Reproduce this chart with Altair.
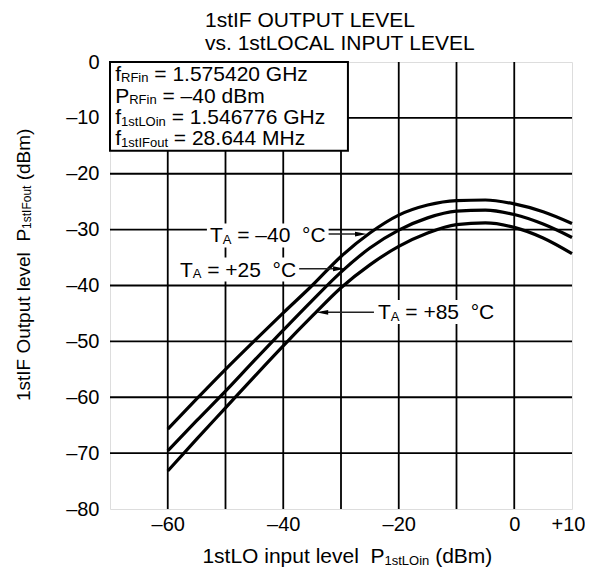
import altair as alt
import pandas as pd

FONT = "Liberation Sans"

# ---------------- data ----------------
X_LO = [-60, -55, -50, -45, -40, -35, -30, -25, -20, -15, -10, -5, 0, 5, 10]
P_M40 = [-65.7, -60.3, -55.0, -49.9, -44.9, -40.0, -34.8, -30.6, -27.4, -25.6, -24.8, -24.7, -25.4, -26.8, -28.9]
P_P25 = [-69.6, -64.2, -58.9, -53.4, -48.0, -42.7, -37.6, -33.3, -30.1, -27.9, -26.7, -26.5, -27.3, -29.0, -31.4]
P_P85 = [-73.2, -67.5, -61.9, -56.3, -50.8, -45.5, -40.4, -36.3, -33.0, -30.6, -29.1, -28.8, -29.6, -31.5, -34.3]
SERIES = ["-40", "+25", "+85"]

X_DOMAIN = [-70, 10]
Y_DOMAIN = [-80, 0]
X_TICKS = [-60, -40, -20, 0, 10]
Y_TICKS = [0, -10, -20, -30, -40, -50, -60, -70, -80]
GRID_X = [-60, -50, -40, -30, -20, -10, 0]
GRID_Y = [-10, -20, -30, -40, -50, -60, -70]

TITLE_LINES = ["1stIF OUTPUT LEVEL", "vs. 1stLOCAL INPUT LEVEL"]
TITLE_X = -53.55
TITLE_Y = [6.26, 2.15]

COND_LINES = [
    [("f", False), ("RFin", True), (" = 1.575420 GHz", False)],
    [("P", False), ("RFin", True), (" = –40 dBm", False)],
    [("f", False), ("1stLOin", True), (" = 1.546776 GHz", False)],
    [("f", False), ("1stIFout", True), (" = 28.644 MHz", False)],
]
COND_X = -69.1
COND_Y = [-3.4, -7.25, -11.1, -14.9]
COND_BOX = [-70, -28.8, 0, -15.9]

X_TITLE = [("1stLO input level  P", False), ("1stLOin", True), (" (dBm)", False)]
Y_TITLE = [("1stIF Output level  P", False), ("1stIFout", True), (" (dBm)", False)]
X_TITLE_POS = (-28.9, -89.7)   # centre x, baseline y
Y_TITLE_POS = (-83.9, -36.3)   # baseline x, centre y

ANNOT = [
    [("T", False), ("A", True), (" = –40  °C", False)],
    [("T", False), ("A", True), (" = +25  °C", False)],
    [("T", False), ("A", True), (" = +85  °C", False)],
]
ANNOT_X = [-52.7, -57.9, -23.6]
ANNOT_Y = [-32.3, -38.4, -46.0]
ARROW_Y = [-30.8, -37.0, -44.8]
ARROW_TIP = [-25.5, -29.3, -34.3]
ARROW_DIR = [1, 1, -1]

# ---------------- geometry ----------------
W, H = 462, 447
PXX = W / (X_DOMAIN[1] - X_DOMAIN[0])
PXY = H / (Y_DOMAIN[1] - Y_DOMAIN[0])
MAIN, SUB = 21, 13

ARIAL = {' ': 278, '(': 333, ')': 333, '+': 584, '.': 278, '=': 584, '°': 400, '–': 556,
         'A': 667, 'B': 667, 'C': 722, 'F': 611, 'G': 778, 'H': 722, 'I': 278, 'L': 556,
         'M': 833, 'O': 778, 'P': 667, 'R': 722, 'T': 611, 'd': 556, 'e': 556, 'f': 278,
         'i': 222, 'l': 222, 'm': 833, 'n': 556, 'o': 556, 'p': 556, 'r': 333, 's': 500,
         't': 278, 'u': 556, 'v': 500, 'z': 500}


def tw(s, size):
    return sum(ARIAL.get(c, 556) for c in s) * size / 1000.0


def total_width(parts, size, sub):
    return sum(tw(t, sub if s else size) for t, s in parts)


def place(parts, x0, y0, size, sub, rotate=False, drop=1.5):
    rows, off = [], 0.0
    for text, is_sub in parts:
        fs = sub if is_sub else size
        d = drop if is_sub else 0.0
        lead = len(text) - len(text.lstrip(" "))
        o = off + tw(" " * lead, fs)
        shown = text.strip(" ").replace(" ", "\u00a0")
        if rotate:
            rows.append(dict(x=x0 + d / PXX, y=y0 + o / PXY, text=shown, size=fs, angle=270))
        else:
            rows.append(dict(x=x0 + o / PXX, y=y0 - d / PXY, text=shown, size=fs, angle=0))
        off += tw(text, fs)
    return rows


xs = alt.Scale(domain=X_DOMAIN, nice=False, zero=False)
ys = alt.Scale(domain=Y_DOMAIN, nice=False, zero=False)

xaxis = alt.Axis(values=X_TICKS, title=None, grid=False, domain=False, ticks=False,
                 labelFlush=True, labelFlushOffset=13,
                 labelExpr="datum.value == 0 ? '0' : datum.value > 0 ? '+' + datum.value : '–' + abs(datum.value)",
                 labelFont=FONT, labelFontSize=20, labelColor="black", labelPadding=5)
yaxis = alt.Axis(values=Y_TICKS, title=None, grid=False, domain=False, ticks=False, labelFlush=False,
                 labelExpr="datum.value == 0 ? '0' : '–' + abs(datum.value)",
                 labelFont=FONT, labelFontSize=20, labelColor="black", labelPadding=11)


def X(field):
    return alt.X(field, scale=xs, axis=xaxis, title=None)


def Y(field):
    return alt.Y(field, scale=ys, axis=yaxis, title=None)


# curves
rows = []
for name, vals in zip(SERIES, [P_M40, P_P25, P_P85]):
    for x, p in zip(X_LO, vals):
        rows.append(dict(x=x, p=p, series=name))
curves_df = pd.DataFrame(rows)

# text pieces
text_rows = []
for line, y in zip(TITLE_LINES, TITLE_Y):
    text_rows += place([(line, False)], TITLE_X, y, MAIN, SUB)
for parts, y in zip(COND_LINES, COND_Y):
    text_rows += place(parts, COND_X, y, MAIN, SUB)
xw = total_width(X_TITLE, MAIN, SUB)
text_rows += place(X_TITLE, X_TITLE_POS[0] - xw / 2 / PXX, X_TITLE_POS[1], MAIN, SUB)
yw = total_width(Y_TITLE, 19, 12)
text_rows += place(Y_TITLE, Y_TITLE_POS[0], Y_TITLE_POS[1] - yw / 2 / PXY, 19, 12, rotate=True)

bg_rows, shaft_rows, head_rows = [], [], []
for parts, ax, ay, arry, tip, d in zip(ANNOT, ANNOT_X, ANNOT_Y, ARROW_Y, ARROW_TIP, ARROW_DIR):
    text_rows += place(parts, ax, ay, MAIN, SUB)
    w = total_width(parts, MAIN, SUB)
    bg_rows.append(dict(x=ax - 3 / PXX, x2=ax + (w + 3) / PXX, y=ay + 19 / PXY, y2=ay - 5 / PXY))
    start = ax + (w + 3) / PXX if d > 0 else ax - 4 / PXX
    head = tip - d * 6 / PXX
    shaft_rows.append(dict(x=start, x2=head, y=arry))
    head_rows.append(dict(x=head, y=arry, angle=0 if d > 0 else 180))

text_df = pd.DataFrame(text_rows)

grid_x = alt.Chart(pd.DataFrame({"x": GRID_X})).mark_rule(color="black", strokeWidth=1.8).encode(
    x=X("x:Q"))
grid_y = alt.Chart(pd.DataFrame({"y": GRID_Y})).mark_rule(color="black", strokeWidth=1.8).encode(
    y=Y("y:Q"))

box = alt.Chart(pd.DataFrame([dict(x=COND_BOX[0], x2=COND_BOX[1], y=COND_BOX[2], y2=COND_BOX[3])])).mark_rect(
    fill="white", stroke="black", strokeWidth=2).encode(
    x=X("x:Q"), x2="x2:Q", y=Y("y:Q"), y2="y2:Q")

bgs = alt.Chart(pd.DataFrame(bg_rows)).mark_rect(fill="white").encode(
    x=X("x:Q"), x2="x2:Q", y=Y("y:Q"), y2="y2:Q")

lines = alt.Chart(curves_df).mark_line(color="black", strokeWidth=3.2, interpolate="monotone").encode(
    x=X("x:Q"), y=Y("p:Q"), detail="series:N")

shafts = alt.Chart(pd.DataFrame(shaft_rows)).mark_rule(color="#222", strokeWidth=1.5).encode(
    x=X("x:Q"), x2="x2:Q", y=Y("y:Q"))

heads = alt.Chart(pd.DataFrame(head_rows)).mark_point(
    shape="M-1,-0.4L1,0L-1,0.4Z", filled=True, size=144, color="black", opacity=1).encode(
    x=X("x:Q"), y=Y("y:Q"), angle=alt.Angle("angle:Q", scale=None))

texts = alt.Chart(text_df).mark_text(align="left", baseline="alphabetic", font=FONT, color="black").encode(
    x=X("x:Q"), y=Y("y:Q"),
    text="text:N", size=alt.Size("size:Q", scale=None), angle=alt.Angle("angle:Q", scale=None))

chart = alt.layer(grid_x, grid_y, box, bgs, lines, shafts, heads, texts).properties(
    width=W, height=H,
    padding={"left": 102, "top": 54, "right": 13, "bottom": 59},
    autosize=alt.AutoSizeParams(type="none"),
).configure_view(stroke="black", strokeWidth=3).configure(background="white")

chart.save("out.html", embed_options={"renderer": "svg", "actions": False})
